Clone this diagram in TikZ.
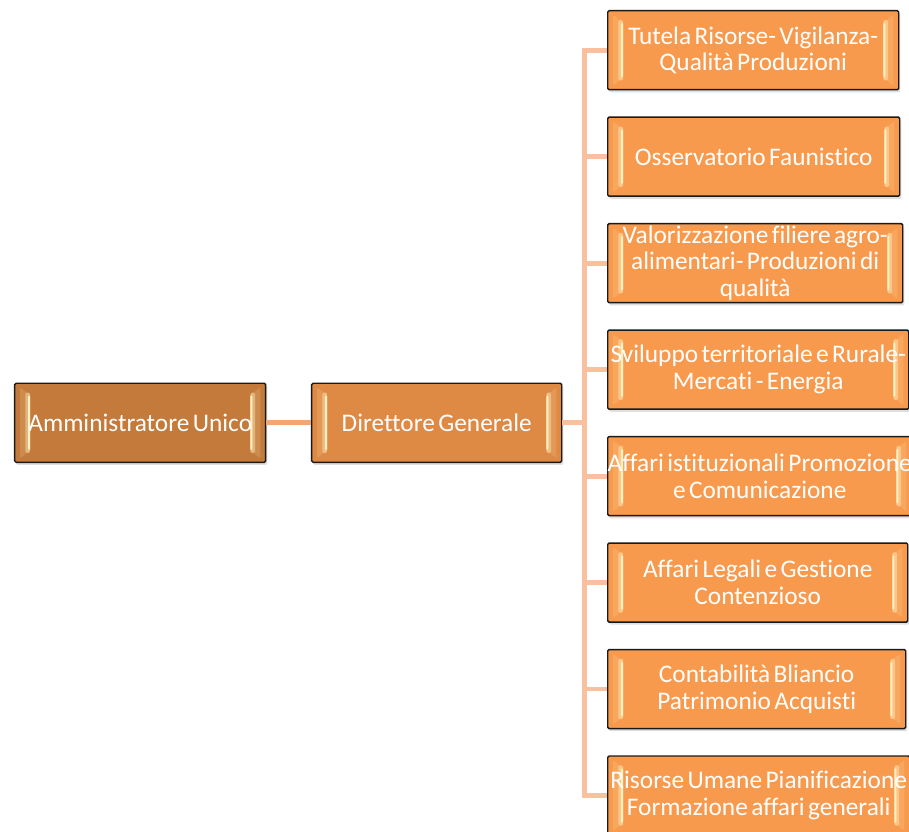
\documentclass[tikz,border=0pt]{standalone}
\usepackage{fontspec}
\setmainfont[WordSpace=0.6,Ligatures=NoCommon]{Carlito}
\usepackage{xcolor}
\usepackage{tikz}
\usetikzlibrary{calc,positioning,shadows}
\definecolor{ink}{HTML}{1A1A1A}
\definecolor{amfill}{HTML}{C47A3A}
\definecolor{dgfill}{HTML}{DE8944}
\definecolor{subfill}{HTML}{F79A4E}
\definecolor{bevlight}{HTML}{FFF1C2}
\definecolor{linkdark}{HTML}{F4A574}
\definecolor{linklight}{HTML}{F9C0A0}
\tikzset{
  every node/.style={font=\fontsize{19}{20}\selectfont,text=white},
  orgbox/.style={draw=ink,line width=1.1pt,rounded corners=1pt,fill=#1,align=center,
    inner sep=0pt,minimum height=59.25pt,
    drop shadow={shadow xshift=1.2pt,shadow yshift=-2pt,opacity=.25},
    path picture={
      % left bevel face
      \fill[#1!85!bevlight]
        ($(path picture bounding box.north west)+(4pt,-3pt)$) --
        ($(path picture bounding box.north west)+(11.5pt,-9pt)$) --
        ($(path picture bounding box.south west)+(11.5pt,9pt)$) --
        ($(path picture bounding box.south west)+(4pt,3pt)$) -- cycle;
      \fill[#1!50!bevlight]
        ($(path picture bounding box.north west)+(8pt,-7pt)$) rectangle
        ($(path picture bounding box.south west)+(11.5pt,7pt)$);
      \fill[bevlight]
        ($(path picture bounding box.north west)+(10pt,-9pt)$) rectangle
        ($(path picture bounding box.south west)+(11.5pt,9pt)$);
      % right bevel face
      \fill[#1!85!bevlight]
        ($(path picture bounding box.north east)+(-11.5pt,-9pt)$) --
        ($(path picture bounding box.north east)+(-4pt,-3pt)$) --
        ($(path picture bounding box.south east)+(-4pt,3pt)$) --
        ($(path picture bounding box.south east)+(-11.5pt,9pt)$) -- cycle;
      \fill[#1!50!bevlight]
        ($(path picture bounding box.north east)+(-11.5pt,-7pt)$) rectangle
        ($(path picture bounding box.south east)+(-8pt,7pt)$);
      \fill[bevlight]
        ($(path picture bounding box.north east)+(-11.5pt,-9pt)$) rectangle
        ($(path picture bounding box.south east)+(-10pt,9pt)$);
    }},
  ambox/.style={orgbox=amfill,minimum width=188.25pt},
  dgbox/.style={orgbox=dgfill,minimum width=187.5pt},
  subbox/.style={orgbox=subfill},
  link/.style={draw=linkdark,line width=3.6pt},
  spine/.style={draw=linklight,line width=3.6pt,line join=miter},
}
\begin{document}
\begin{tikzpicture}
  \node[dgbox] (dg) {Direttore Generale};
  \node[ambox,left=33.4pt of dg] (am) {Amministratore Unico};
  \node[subbox,minimum width=218.25pt,anchor=west] (r1) at ($(dg.east)+(33.4pt,279.4pt)$)
    {Tutela Risorse- Vigilanza-\\Qualità Produzioni};
  \node[subbox,minimum width=219pt,below=19.5pt of r1.south west,anchor=north west] (r2)
    {Osservatorio Faunistico};
  \node[subbox,minimum width=221.25pt,below=19.5pt of r2.south west,anchor=north west] (r3)
    {Valorizzazione filiere agro-\\alimentari- Produzioni di\\qualità};
  \node[subbox,minimum width=225.75pt,below=19.5pt of r3.south west,anchor=north west] (r4)
    {Sviluppo territoriale e Rurale-\\Mercati - Energia};
  \node[subbox,minimum width=224.25pt,below=19.5pt of r4.south west,anchor=north west] (r5)
    {Affari istituzionali Promozione\\e Comunicazione};
  \node[subbox,minimum width=225pt,below=19.5pt of r5.south west,anchor=north west] (r6)
    {Affari Legali e Gestione\\Contenzioso};
  \node[subbox,minimum width=223.5pt,below=19.5pt of r6.south west,anchor=north west] (r7)
    {Contabilità Bliancio\\Patrimonio Acquisti};
  \node[subbox,minimum width=226.5pt,below=19.5pt of r7.south west,anchor=north west] (r8)
    {Risorse Umane Pianificazione\\Formazione affari generali};
  % spine between the two levels
  \coordinate (sp) at ($(dg.east)!0.5!(dg.east -| r1.west)$);
  \draw[link] (am) -- (dg);
  \draw[spine] (dg.east) -- (sp);
  \draw[spine] (r1.west) -| (sp |- r8.west) -- (r8.west);
  \draw[spine] (r2.west) -- (r2.west -| sp);
  \draw[spine] (r3.west) -- (r3.west -| sp);
  \draw[spine] (r4.west) -- (r4.west -| sp);
  \draw[spine] (r5.west) -- (r5.west -| sp);
  \draw[spine] (r6.west) -- (r6.west -| sp);
  \draw[spine] (r7.west) -- (r7.west -| sp);
  \pgfresetboundingbox
  \useasboundingbox ($(am.west |- r1.north)+(-10.5pt,7.5pt)$) rectangle ($(r1.west |- r8.north)+(226.5pt,-57pt)$);
\end{tikzpicture}
\end{document}
